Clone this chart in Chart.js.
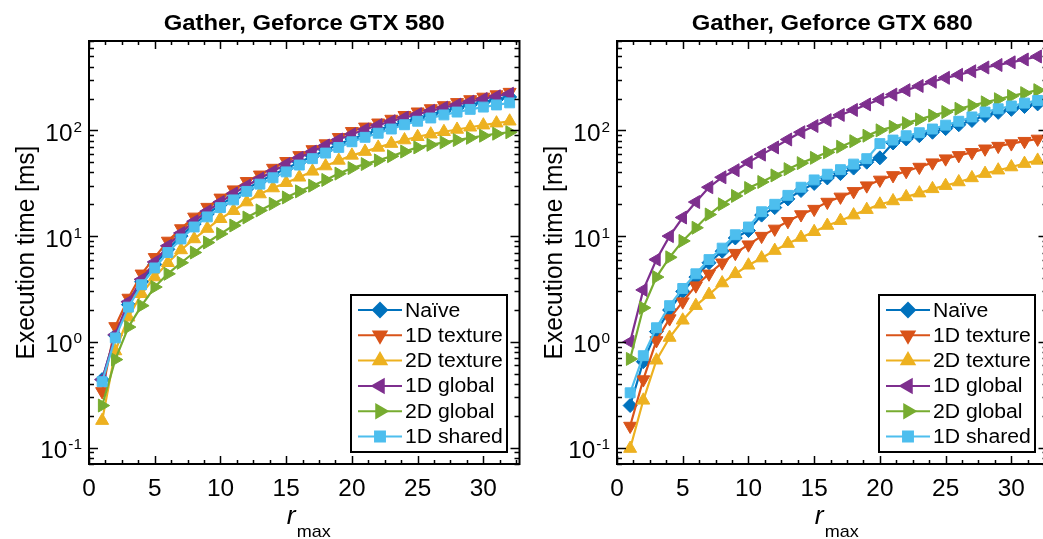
<!DOCTYPE html>
<html>
<head>
<meta charset="utf-8">
<script src="https://cdn.jsdelivr.net/npm/chart.js@4/dist/chart.umd.min.js"></script>
<style>
  html, body { margin: 0; padding: 0; background: #fff; overflow: hidden; width: 1043px; height: 539px; }
  .panel { position: absolute; top: 0; width: 528px; height: 539px; }
  #p580 { left: 0; }
  #p680 { left: 528px; }
</style>
</head>
<body>
<div class="panel" id="p580"><canvas id="c580" width="528" height="539"></canvas></div>
<div class="panel" id="p680"><canvas id="c680" width="528" height="539"></canvas></div>
<script>
// r_max values on the x axis
const rMax = [1, 2, 3, 4, 5, 6, 7, 8, 9, 10, 11, 12, 13, 14, 15, 16,
              17, 18, 19, 20, 21, 22, 23, 24, 25, 26, 27, 28, 29, 30, 31, 32];

const seriesNames = ["Naïve", "1D texture", "2D texture", "1D global", "2D global", "1D shared"];
const seriesColors = ["#0072BD", "#D95319", "#EDB120", "#7E2F8E", "#77AC30", "#4DBEEE"];

// Geforce GTX 580, execution time [ms]
const naive580 = [0.44, 1.15, 2.25, 3.7, 5.4, 7.5, 10, 13, 16.2, 19.8, 23.5, 28, 33, 38, 43.5, 50,
                  57, 65, 74, 83, 92, 101, 111, 121, 131, 141, 152, 163, 174, 185, 196, 207];
const tex1d580 = [0.34, 1.4, 2.6, 4.4, 6.3, 9.0, 11.8, 15.2, 18.8, 23, 27.5, 33, 38, 44, 51, 58,
                  66, 75, 86, 98, 108, 118, 128, 139, 150, 161, 172, 184, 196, 207, 218, 230];
const tex2d580 = [0.18, 0.82, 1.71, 2.85, 4.1, 5.6, 7.4, 9.4, 11.8, 14.6, 17.4, 21, 25, 28.5, 32, 36,
                  41, 46, 52, 58, 63, 69, 75, 81, 87, 92, 97, 102, 107, 112, 117, 122];
const glob1d580 = [0.44, 1.17, 2.4, 3.9, 5.7, 8.1, 10.7, 13.8, 17.2, 21, 25.3, 30, 35, 41, 48, 55,
                   63, 72, 82, 92, 102, 112, 122, 132, 142, 153, 164, 175, 187, 198, 210, 222];
const glob2d580 = [0.25, 0.68, 1.38, 2.2, 3.3, 4.4, 5.6, 7.0, 8.7, 10.5, 12.6, 15, 17.5, 20.2, 23.2, 26.5,
                   30, 34, 39, 44, 48, 52, 57, 63, 69, 73, 77, 81, 85, 89, 93, 96];
const shared1d580 = [0.42, 1.09, 2.13, 3.47, 5.0, 7.0, 9.4, 12.2, 15.2, 18.6, 22, 26.5, 31, 35.6, 40.5, 47,
                     54, 61, 69, 78, 86, 94, 103, 113, 122, 131, 140, 149, 158, 166, 174, 182];

// Geforce GTX 680, execution time [ms]
const naive680 = [0.25, 0.65, 1.25, 2.0, 3.0, 4.1, 5.6, 7.2, 9.6, 11.3, 15.8, 18.6, 22.5, 27, 31.5, 35.5,
                  39, 44, 50, 55, 76, 83, 89, 96, 104, 113, 124, 138, 148, 158, 168, 178];
const tex1d680 = [0.16, 0.44, 1.03, 1.66, 2.4, 3.4, 4.4, 5.6, 6.9, 8.3, 10, 11.7, 13.8, 16, 18, 21,
                  23.5, 26.5, 30, 34, 37.5, 41, 45, 49.5, 54, 58, 62, 67, 71, 75, 79, 83];
const tex2d680 = [0.098, 0.28, 0.67, 1.1, 1.6, 2.2, 2.8, 3.6, 4.4, 5.3, 6.2, 7.3, 8.5, 9.7, 11, 12.6,
                  14, 15.8, 17.8, 20, 21.5, 23.5, 25.5, 28, 30, 32.5, 35.5, 39, 42, 45, 48.5, 52];
const glob1d680 = [1.0, 3.1, 6.0, 10, 15, 21, 29, 36, 42, 50, 59, 69, 82, 96, 110, 125,
                   140, 156, 176, 196, 218, 240, 263, 288, 314, 335, 362, 393, 415, 440, 468, 500];
const glob2d680 = [0.69, 2.1, 4.1, 6.3, 9.0, 12, 16, 20, 24, 28.5, 32.5, 37.5, 43, 49, 55, 62,
                   70, 79, 89, 100, 108, 117, 127, 138, 149, 160, 172, 184, 197, 211, 225, 240];
const shared1d680 = [0.33, 0.74, 1.36, 2.2, 3.2, 4.4, 6.0, 7.7, 10.3, 12.2, 17, 20, 24.3, 29, 34, 38.5,
                     42.5, 48, 54, 75, 81, 89, 95, 103, 112, 122, 134, 149, 160, 170, 181, 192];

// tick labels
const xTickValues = [0, 5, 10, 15, 20, 25, 30];
const yTickValues = [0.1, 1, 10, 100];
const yTickExponents = ["-1", "0", "1", "2"];

// marker per series: [pointStyle, rotation, radius]
const markers = [["rectRot", 0, 7], ["triangle", 180, 7.5], ["triangle", 0, 7.5],
                 ["triangle", 270, 7.5], ["triangle", 90, 7.5], ["rect", 0, 7]];

const SX = 1.06; // the reference text is a little wide
const FONT = '"Liberation Sans", Arial, sans-serif';

function wideText(ctx, text, x, y, font, align) {
  ctx.save();
  ctx.font = font;
  ctx.textAlign = "left";
  const w = ctx.measureText(text).width * SX;
  let x0 = x;
  if (align === "center") x0 = x - w / 2;
  else if (align === "right") x0 = x - w;
  ctx.translate(x0, y);
  ctx.scale(SX, 1);
  ctx.fillText(text, 0, 0);
  ctx.restore();
  return w;
}

function drawMarker(ctx, m, x, y) {
  if (Chart.helpers && Chart.helpers.drawPoint) {
    Chart.helpers.drawPoint(ctx, { pointStyle: m[0], rotation: m[1], radius: m[2], borderWidth: 1 }, x, y);
  }
}

const matlabAxes = {
  id: "matlabAxes",
  afterDraw(chart, args, opts) {
    const ctx = chart.ctx;
    const a = chart.chartArea;
    const xs = chart.scales.x, ys = chart.scales.y;
    ctx.save();
    ctx.strokeStyle = "#000";
    ctx.fillStyle = "#000";

    // tick marks, inside the box
    ctx.lineWidth = 1.5;
    ctx.beginPath();
    for (let v = 0; v <= xs.max + 1e-9; v += 1.25) {
      const px = Math.round(xs.getPixelForValue(v)) + 0.5;
      const len = xTickValues.includes(v) ? 8 : 4;
      ctx.moveTo(px, a.bottom); ctx.lineTo(px, a.bottom - len);
      ctx.moveTo(px, a.top); ctx.lineTo(px, a.top + len);
    }
    for (let d = -2; d <= 2; d++) {
      for (let k = 1; k <= 9; k++) {
        const v = k * Math.pow(10, d);
        if (v < ys.min * 0.999 || v > ys.max * 1.001) continue;
        const py = Math.round(ys.getPixelForValue(v)) + 0.5;
        const len = k === 1 ? 9 : 5;
        ctx.moveTo(a.left, py); ctx.lineTo(a.left + len, py);
        ctx.moveTo(a.right, py); ctx.lineTo(a.right - len, py);
      }
    }
    ctx.stroke();

    // box
    ctx.lineWidth = 2;
    ctx.strokeRect(a.left, a.top, a.right - a.left, a.bottom - a.top);

    // x tick labels
    ctx.textBaseline = "alphabetic";
    xTickValues.forEach(v => {
      wideText(ctx, String(v), xs.getPixelForValue(v), 496, "23px " + FONT, "center");
    });

    // y tick labels, 10 with a raised exponent
    yTickValues.forEach((v, i) => {
      const py = ys.getPixelForValue(v);
      const ew = wideText(ctx, yTickExponents[i], a.left - 7, py + 1.5, "14.5px " + FONT, "right");
      wideText(ctx, "10", a.left - 8 - ew, py + 10.5, "23px " + FONT, "right");
    });

    // title
    wideText(ctx, opts.title, (a.left + a.right) / 2, 30, "bold 22.5px " + FONT, "center");

    // x label: r with subscript max
    const cx = (a.left + a.right) / 2 + 4;
    ctx.font = "italic 25px " + FONT;
    const rw = ctx.measureText("r").width * SX;
    ctx.font = "17px " + FONT;
    const mw = ctx.measureText("max").width * SX;
    const x0 = cx - (rw + mw) / 2;
    wideText(ctx, "r", x0, 524, "italic 25px " + FONT, "left");
    wideText(ctx, "max", x0 + rw + 1, 537, "17px " + FONT, "left");

    // y label, rotated
    ctx.save();
    ctx.translate(34, (a.top + a.bottom) / 2);
    ctx.rotate(-Math.PI / 2);
    ctx.scale(1, SX);
    ctx.font = "24.5px " + FONT;
    ctx.textAlign = "center";
    ctx.fillText("Execution time [ms]", 0, 0);
    ctx.restore();

    // legend
    const bx = a.left + 262, by = 295, bw = 156, bh = 157;
    ctx.fillStyle = "#fff";
    ctx.fillRect(bx, by, bw, bh);
    ctx.lineWidth = 2;
    ctx.strokeStyle = "#000";
    ctx.strokeRect(bx, by, bw, bh);
    chart.data.datasets.forEach((ds, i) => {
      const ry = 310 + i * 25.3;
      ctx.strokeStyle = ds.borderColor;
      ctx.fillStyle = ds.borderColor;
      ctx.lineWidth = 2;
      ctx.beginPath();
      ctx.moveTo(bx + 7, ry); ctx.lineTo(bx + 51, ry);
      ctx.stroke();
      drawMarker(ctx, markers[i], bx + 29, ry);
      ctx.fillStyle = "#000";
      ctx.textBaseline = "middle";
      wideText(ctx, ds.label, bx + 54, ry + 1, "20px " + FONT, "left");
      ctx.textBaseline = "alphabetic";
    });
    ctx.restore();
  }
};

function makeChart(id, title, series) {
  const datasets = series.map((vals, i) => ({
    label: seriesNames[i],
    data: rMax.map((r, j) => ({ x: r, y: vals[j] })),
    borderColor: seriesColors[i],
    backgroundColor: seriesColors[i],
    borderWidth: 2.2,
    tension: 0,
    pointStyle: markers[i][0],
    pointRotation: markers[i][1],
    pointRadius: markers[i][2],
    pointBackgroundColor: seriesColors[i],
    pointBorderColor: seriesColors[i],
    pointBorderWidth: 1,
    order: series.length - i
  }));
  return new Chart(document.getElementById(id).getContext("2d"), {
    type: "line",
    data: { datasets: datasets },
    options: {
      responsive: false,
      animation: false,
      events: [],
      layout: { padding: { left: 0, top: 41, right: 8, bottom: 0 } },
      plugins: {
        legend: { display: false },
        tooltip: { enabled: false },
        title: { display: false },
        matlabAxes: { title: title }
      },
      scales: {
        x: {
          type: "linear", min: 0, max: 32.75,
          grid: { display: false }, border: { display: false }, ticks: { display: false },
          afterFit: s => { s.height = 75; }
        },
        y: {
          type: "logarithmic", min: 0.07, max: 700,
          grid: { display: false }, border: { display: false }, ticks: { display: false },
          afterFit: s => { s.width = 89; }
        }
      }
    },
    plugins: [matlabAxes]
  });
}

makeChart("c580", "Gather, Geforce GTX 580",
  [naive580, tex1d580, tex2d580, glob1d580, glob2d580, shared1d580]);
makeChart("c680", "Gather, Geforce GTX 680",
  [naive680, tex1d680, tex2d680, glob1d680, glob2d680, shared1d680]);
</script>
</body>
</html>
